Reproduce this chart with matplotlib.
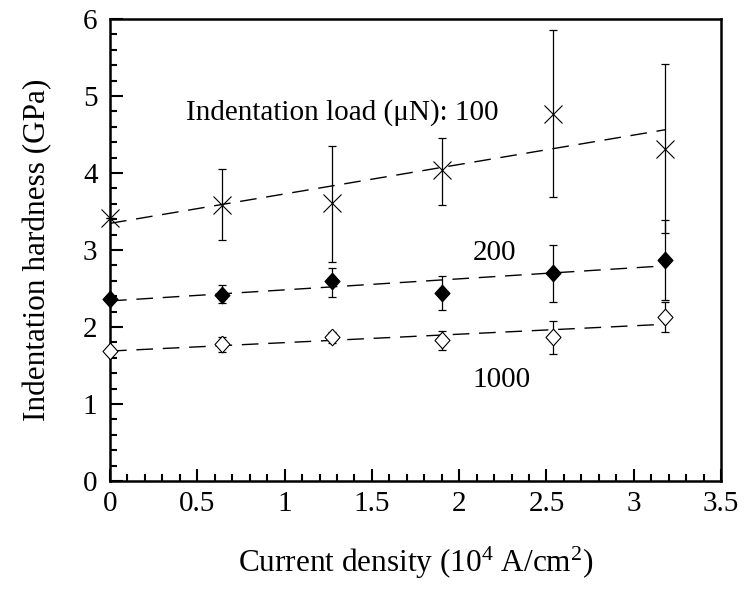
import numpy as np
import matplotlib
matplotlib.use("Agg")
import matplotlib.pyplot as plt
from matplotlib.ticker import MultipleLocator, FuncFormatter

plt.rcParams['font.family'] = ['Liberation Serif', 'DejaVu Serif']
plt.rcParams['mathtext.fontset'] = 'custom'
plt.rcParams['mathtext.rm'] = 'Liberation Serif'
plt.rcParams['mathtext.it'] = 'Liberation Serif:italic'

# Data
current_density = [0.0, 0.64, 1.27, 1.90, 2.54, 3.18]

h100 = [3.41, 3.58, 3.61, 4.04, 4.77, 4.31]
h100_err_up = [0.0, 0.47, 0.74, 0.41, 1.09, 1.10]
h100_err_dn = [0.0, 0.45, 0.77, 0.46, 1.08, 1.09]

h200 = [2.37, 2.42, 2.60, 2.44, 2.70, 2.87]
h200_err_up = [0.0, 0.13, 0.17, 0.22, 0.37, 0.52]
h200_err_dn = [0.0, 0.11, 0.21, 0.22, 0.38, 0.52]

h1000 = [1.69, 1.78, 1.87, 1.83, 1.87, 2.13]
h1000_err_up = [0.0, 0.09, 0.06, 0.12, 0.21, 0.20]
h1000_err_dn = [0.0, 0.10, 0.08, 0.13, 0.22, 0.20]

fig = plt.figure(figsize=(7.46, 5.90), dpi=100)
ax = fig.add_axes([0.1475, 0.1847, 0.8190, 0.7831])

x = np.array(current_density)
diamond = [(0, 1), (0.9, 0), (0, -1), (-0.9, 0), (0, 1)]

series = [
    (h100, h100_err_dn, h100_err_up, dict(marker='x', markersize=12.5, mfc='none', mec='black', mew=0.8)),
    (h200, h200_err_dn, h200_err_up, dict(marker=diamond, markersize=12, mfc='black', mec='black', mew=0.8)),
    (h1000, h1000_err_dn, h1000_err_up, dict(marker=diamond, markersize=12, mfc='white', mec='black', mew=0.8)),
]

for y, edn, eup, mk in series:
    y = np.array(y)
    eb = ax.errorbar(x, y, yerr=[edn, eup], fmt='none', ecolor='black', elinewidth=0.9,
                     capsize=3.2, capthick=0.9, zorder=2)
    for art in eb.get_children():
        art.set_clip_on(False)
    k, b = np.polyfit(x, y, 1)
    xs = np.array([x.min(), x.max()])
    ax.plot(xs, k * xs + b, color='black', lw=1.0, dashes=(12, 7), zorder=1)
    ax.plot(x, y, linestyle='none', zorder=3, clip_on=False, **mk)

ax.set_xlim(0, 3.5)
ax.set_ylim(0, 6)
ax.xaxis.set_major_locator(MultipleLocator(0.5))
ax.xaxis.set_minor_locator(MultipleLocator(0.1))
ax.yaxis.set_major_locator(MultipleLocator(1))
ax.yaxis.set_minor_locator(MultipleLocator(0.2))
ax.xaxis.set_major_formatter(FuncFormatter(lambda v, p: f"{v:g}"))
ax.yaxis.set_major_formatter(FuncFormatter(lambda v, p: f"{v:g}"))

for s in ax.spines.values():
    s.set_linewidth(1.8)
ax.tick_params(which='both', direction='in', top=False, right=False, labelsize=21)
ax.tick_params(axis='x', pad=7)
ax.tick_params(axis='y', pad=9)
ax.tick_params(which='major', length=9, width=1.5)
ax.tick_params(which='minor', length=5, width=1.5)

ax.set_xlabel(r'Current density (10$^{\mathrm{4}}$ A/cm$^{\mathrm{2}}$)', fontsize=22.5, labelpad=20)
ax.set_ylabel('Indentation hardness (GPa)', fontsize=22.5, labelpad=22)

ax.text(0.435, 4.78, 'Indentation load (\u03bcN): 100', fontsize=21, ha='left', va='center')
ax.text(2.20, 2.96, '200', fontsize=21, ha='center', va='center')
ax.text(2.245, 1.31, '1000', fontsize=21, ha='center', va='center')

fig.savefig('out.png', dpi=100)
